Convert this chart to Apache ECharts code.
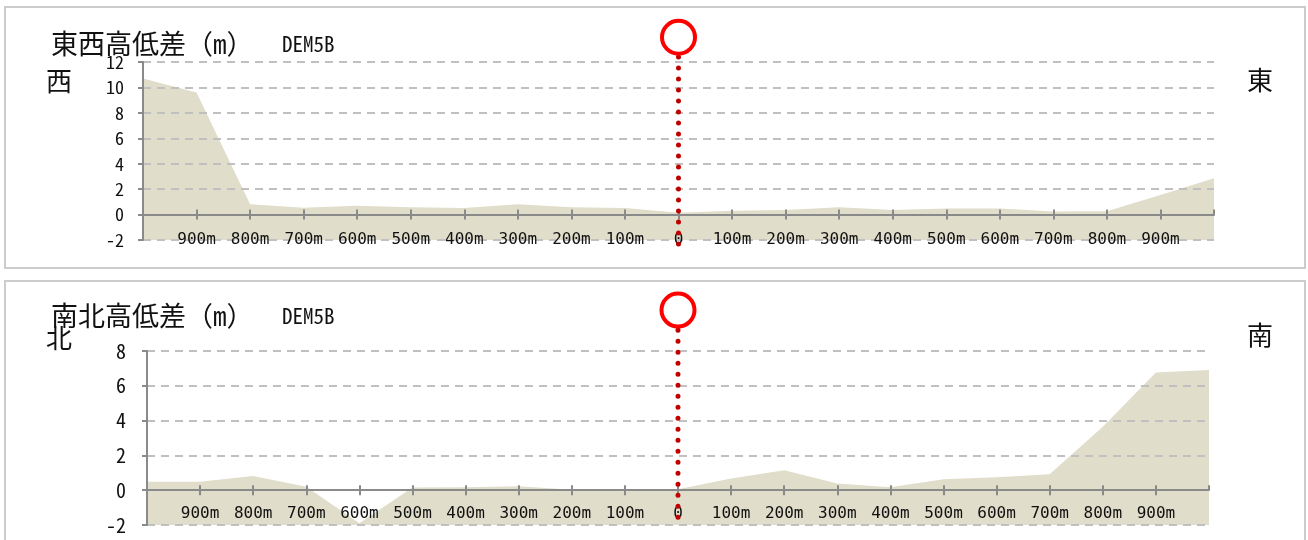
<!DOCTYPE html>
<html><head><meta charset="utf-8">
<script src="https://cdn.jsdelivr.net/npm/echarts@6/dist/echarts.min.js"></script>
<style>html,body{margin:0;padding:0;background:#fff;overflow:hidden}#c{width:1308px;height:540px}</style>
</head><body><div id="c"></div><script>
// distance from the centre point (west/north negative, east/south positive), metres
const distances = [-1000,-900,-800,-700,-600,-500,-400,-300,-200,-100,0,100,200,300,400,500,600,700,800,900,1000];
// elevation difference (m) along the east-west profile
const eastWest = [10.7,9.6,0.82,0.53,0.7,0.58,0.52,0.81,0.57,0.52,0.15,0.31,0.36,0.57,0.36,0.47,0.47,0.24,0.26,1.53,2.85];
// elevation difference (m) along the north-south profile
const northSouth = [0.48,0.48,0.82,0.2,-1.9,0.15,0.17,0.23,0.02,-0.06,0.05,0.67,1.15,0.38,0.17,0.63,0.75,0.92,3.64,6.76,6.91];
const titles = ['東西高低差（m）','南北高低差（m）'];
const source = 'DEM5B';
const leftNames = ['西','北'];
const rightNames = ['東','南'];
const yRangeEW = [-2, 12];
const yRangeNS = [-2, 8];
const yStep = 2;
const xStep = 100;
// vertical extent (in elevation units) of the centre marker line, and marker ring level
const markerTop = [12.4, 9.2];
const markerBottom = [-2.63, -1.7];
const ringLevel = [13.95, 10.35];

const MONO = "'Noto Sans Mono CJK JP','Noto Sans CJK JP',monospace";
const XFONT = "'DejaVu Sans Mono','Noto Sans Mono CJK JP',monospace";
const AXIS = '#8a8a8a';
const FILL = '#e0ddca';
const xLabel = v => (Math.abs(v) >= 1000 ? '' : (v === 0 ? '0' : Math.abs(v) + 'm'));

function xAxes(gi, margin) {
  const base = {type:'value', gridIndex:gi, min:distances[0], max:distances[distances.length-1], interval:xStep,
    splitLine:{show:false}, z:4};
  return [
    Object.assign({}, base, {position:'bottom',
      axisLine:{show:true,onZero:true,onZeroAxisIndex:gi,lineStyle:{color:AXIS,width:2}},
      axisTick:{show:true,length:5,lineStyle:{color:AXIS,width:2}},
      axisLabel:{show:true,formatter:xLabel,margin:margin,fontFamily:XFONT,fontSize:16,color:'#111',showMinLabel:false,showMaxLabel:false}}),
    Object.assign({}, base, {position:'top',
      axisLine:{show:false,onZero:true,onZeroAxisIndex:gi},
      axisTick:{show:true,length:5,lineStyle:{color:AXIS,width:2}},
      axisLabel:{show:false}})
  ];
}
function yAxis(gi, range, fs, margin) {
  return {type:'value', gridIndex:gi, min:range[0], max:range[1], interval:yStep, z:3,
    axisLine:{show:true,onZero:false,lineStyle:{color:AXIS,width:2}},
    axisTick:{show:true,length:5,lineStyle:{color:AXIS,width:2}},
    axisLabel:{fontFamily:MONO,fontSize:fs,color:'#111',margin:margin},
    splitLine:{show:true,lineStyle:{color:'#c0c0c0',width:2,type:[8,6]}}};
}
function areaSeries(gi, vals) {
  return {type:'line', xAxisIndex:gi*2, yAxisIndex:gi, data:distances.map((d,i)=>[d,vals[i]]),
    symbol:'none', lineStyle:{width:0}, areaStyle:{color:FILL, opacity:1, origin:'start'}, z:1};
}
const chart = echarts.init(document.getElementById('c'), null, {renderer:'canvas'});
chart.setOption({
  animation:false,
  grid:[
    {left:143, top:62, width:1071, height:178, outerBoundsMode:'none', containLabel:false},
    {left:147, top:351, width:1062, height:174, outerBoundsMode:'none', containLabel:false}
  ],
  xAxis:[...xAxes(0, -8), ...xAxes(1, -19)],
  yAxis:[yAxis(0, yRangeEW, 18, 19), yAxis(1, yRangeNS, 20, 21)],
  series:[areaSeries(0, eastWest), areaSeries(1, northSouth)]
});

const g = [];
const panelTop = [7, 281];
const titleY = [44, 316];
const nameY = [81, 338];
const rightY = [80, 335];
for (let i=0;i<2;i++){
  g.push({type:'rect', shape:{x:5,y:panelTop[i],width:1300,height:(i?320:261)}, style:{fill:'none',stroke:'#cccccc',lineWidth:2}, z:-1});
  g.push({type:'text', x:51, y:titleY[i], style:{text:titles[i], font:'27px '+MONO, fill:'#111', verticalAlign:'middle'}});
  g.push({type:'text', x:282, y:titleY[i], style:{text:source, font:'21px '+MONO, fill:'#111', verticalAlign:'middle'}});
  g.push({type:'text', x:46, y:nameY[i], style:{text:leftNames[i], font:'26px '+MONO, fill:'#111', verticalAlign:'middle'}});
  g.push({type:'text', x:1247, y:rightY[i], style:{text:rightNames[i], font:'26px '+MONO, fill:'#111', verticalAlign:'middle'}});
  const p1 = chart.convertToPixel({gridIndex:i}, [0, markerTop[i]]);
  const p2 = chart.convertToPixel({gridIndex:i}, [0, markerBottom[i]]);
  const pc = chart.convertToPixel({gridIndex:i}, [0, ringLevel[i]]);
  g.push({type:'line', z:10, shape:{x1:p1[0],y1:p1[1],x2:p2[0],y2:p2[1]},
    style:{stroke:'#c00000', lineWidth:5, lineDash:[0.01,11], lineCap:'round'}});
  g.push({type:'circle', z:11, shape:{cx:pc[0], cy:pc[1], r:16.5},
    style:{fill:'#fff', stroke:'#ff0000', lineWidth:4}});
}
chart.setOption({graphic:g});
</script></body></html>
